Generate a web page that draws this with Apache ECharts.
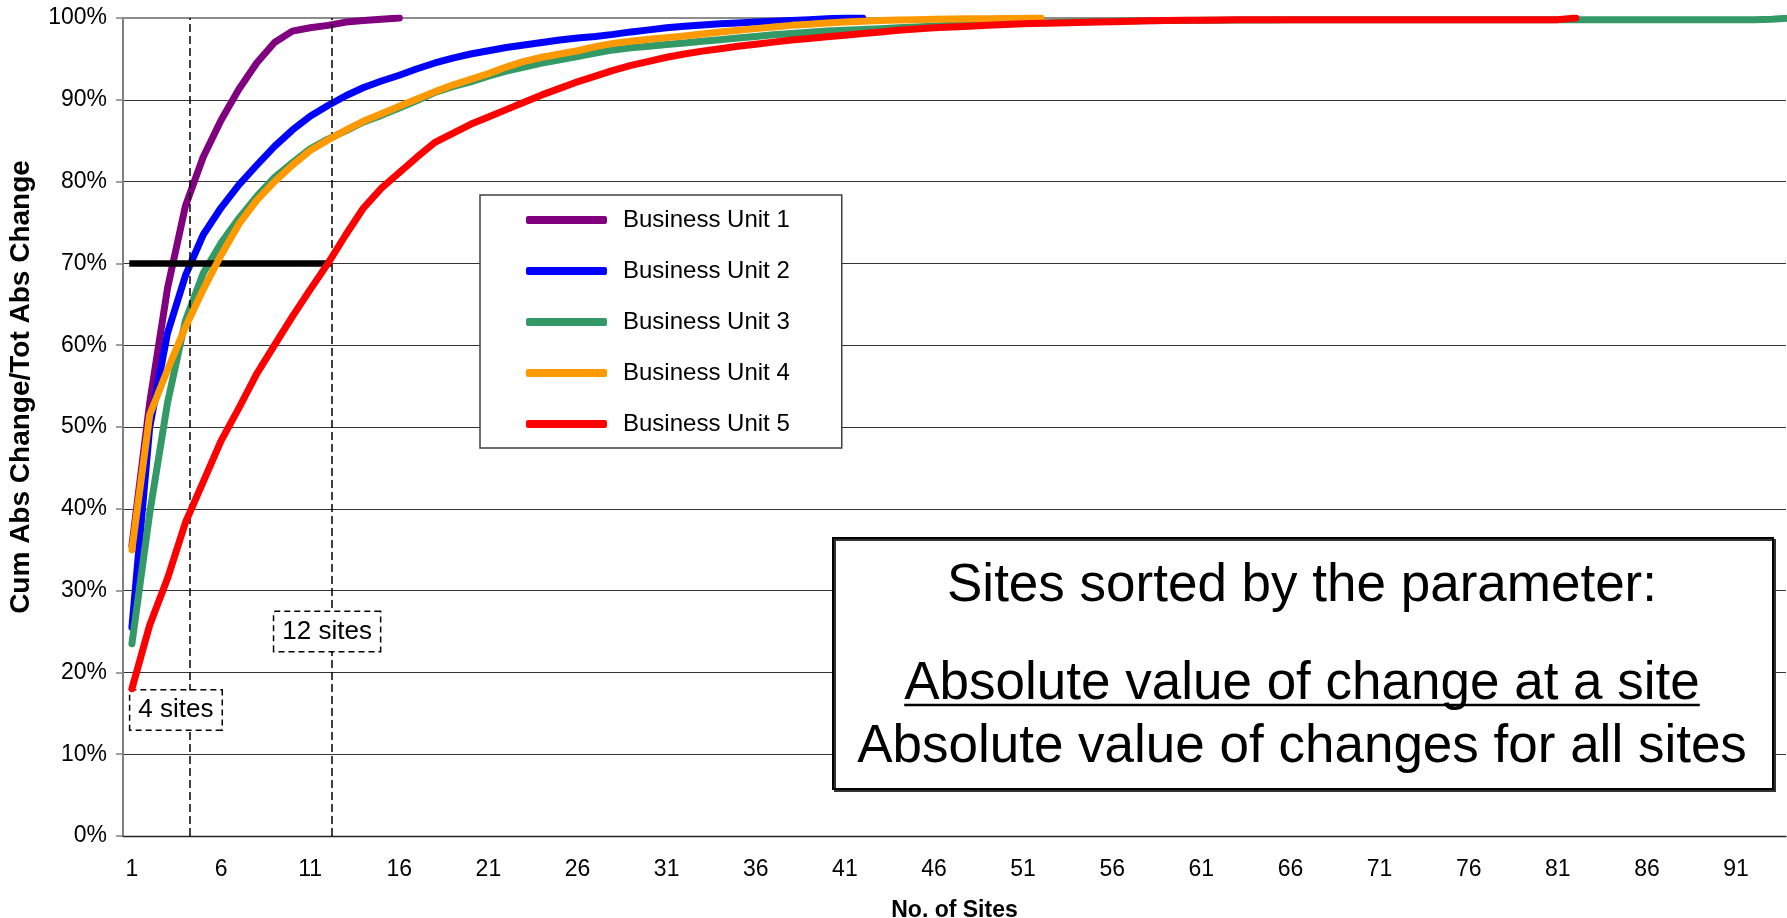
<!DOCTYPE html>
<html><head><meta charset="utf-8">
<script src="https://cdn.jsdelivr.net/npm/echarts@6.0.0/dist/echarts.min.js"></script>
<style>html,body{margin:0;padding:0;background:#fff}#c{width:1787px;height:918px}</style>
</head><body><div id="c"></div>
<script>
// ---------- data ----------
const seriesNames = ['Business Unit 1','Business Unit 2','Business Unit 3','Business Unit 4','Business Unit 5'];
const bu1 = [35.5,53,67,77,83,87.5,91.3,94.5,97.0,98.4,98.8,99.1,99.5,99.7,99.85,100];
const bu2 = [25.5,50,61.5,68.5,73.5,76.8,79.6,82.0,84.3,86.3,88.0,89.3,90.5,91.5,92.3,93.0,93.8,94.5,95.1,95.6,
  96.0,96.4,96.7,97.0,97.3,97.55,97.75,98.0,98.3,98.55,98.8,99.0,99.15,99.3,99.4,99.5,99.6,99.7,99.8,99.9,
  100,100];
const bu3 = [23.5,39.5,53,63,68.8,72.5,75.5,78.2,80.5,82.3,
  84.0,85.2,86.2,87.3,88.1,89.0,89.9,90.9,91.6,92.2,
  92.9,93.5,94.0,94.5,94.9,95.3,95.7,96.1,96.35,96.55,
  96.75,96.95,97.15,97.35,97.55,97.75,97.95,98.1,98.25,98.4,
  98.5,98.6,98.7,98.8,98.9,99.0,99.1,99.2,99.25,99.3,
  99.35,99.4,99.45,99.5,99.55,99.6,99.62,99.65,99.68,99.7,
  99.72,99.74,99.75,99.76,99.77,99.78,99.78,99.79,99.79,99.8,
  99.8,99.8,99.8,99.8,99.8,99.8,99.8,99.8,99.8,99.8,
  99.8,99.8,99.8,99.8,99.8,99.8,99.8,99.8,99.8,99.8,
  99.8,99.8,99.85,100];
const bu4 = [35,51.5,57,62.2,66.8,71,74.8,77.7,80.0,82.0,
  83.8,85.1,86.3,87.4,88.3,89.2,90.1,91.0,91.8,92.5,
  93.2,94.0,94.7,95.2,95.6,96.0,96.5,96.9,97.15,97.4,
  97.6,97.8,98.05,98.3,98.5,98.7,98.9,99.1,99.25,99.4,
  99.5,99.6,99.7,99.75,99.8,99.85,99.88,99.9,99.92,99.95,
  99.97,100];
const bu5 = [18,25.8,31.5,38.3,43.3,48.3,52.3,56.5,60,63.5,
  66.8,70.0,73.5,76.8,79.2,81.1,83.0,84.8,85.9,87.0,
  87.9,88.8,89.7,90.6,91.4,92.2,92.9,93.6,94.2,94.7,
  95.2,95.6,95.95,96.25,96.55,96.8,97.05,97.3,97.5,97.7,
  97.9,98.1,98.3,98.5,98.65,98.8,98.9,99.0,99.1,99.2,
  99.3,99.35,99.4,99.45,99.5,99.55,99.6,99.65,99.7,99.72,
  99.74,99.76,99.78,99.8,99.8,99.8,99.8,99.8,99.8,99.8,
  99.8,99.8,99.8,99.8,99.8,99.8,99.8,99.8,99.8,99.8,
  99.8,100];
const seriesValues = [bu1, bu2, bu3, bu4, bu5];
const seriesColors = ['#800080','#0000FF','#339966','#FF9900','#FF0000'];
const xTickLabels = [1,6,11,16,21,26,31,36,41,46,51,56,61,66,71,76,81,86,91];
const xTitle = 'No. of Sites';
const yTitle = 'Cum Abs Change/Tot Abs Change';
// annotations (site units / percent)
const dashedSites = [4.22, 12.19];
const targetLevel = 70;
const targetFrom = 0.85;
const siteLabels = [{text:'4 sites', site:3.47, pct:15.4},{text:'12 sites', site:11.95, pct:25.0}];
const boxLines = ['Sites sorted by the parameter:', 'Absolute value of change at a site', 'Absolute value of changes for all sites'];

// ---------- chart ----------
const FONT = '"Liberation Sans", Arial, Helvetica, sans-serif';
const X_MIN = 0.5, X_MAX = 93.8;
const chart = echarts.init(document.getElementById('c'), null, {renderer:'canvas'});

const lineSeries = seriesNames.map((n,i)=>({
  name:n, type:'line', data: seriesValues[i].map((v,j)=>[j+1, v]),
  showSymbol:false, symbol:'none', smooth:false, clip:true,
  lineStyle:{color:seriesColors[i], width:7, cap:'round', join:'round'},
  itemStyle:{color:seriesColors[i]},
  emphasis:{disabled:true}, z:2+i
}));

const dashStyle = {type:[8,4], color:'#000', width:1.5};
const annot = {
  type:'line', data:[[dashedSites[0], targetLevel]], showSymbol:false, symbol:'none', silent:true,
  lineStyle:{opacity:0}, z:20,
  markLine:{
    silent:true, symbol:['none','none'], animation:false, label:{show:false},
    data:[
      [{coord:[dashedSites[0],0], lineStyle:dashStyle},{coord:[dashedSites[0],100]}],
      [{coord:[dashedSites[1],0], lineStyle:dashStyle},{coord:[dashedSites[1],100]}],
      [{coord:[targetFrom,targetLevel], lineStyle:{type:'solid', color:'#000', width:6.7, cap:'butt'}},{coord:[dashedSites[1],targetLevel]}]
    ]
  }
};
const labelSeries = {
  type:'line', data:[[siteLabels[0].site, siteLabels[0].pct]], showSymbol:false, symbol:'none', silent:true,
  lineStyle:{opacity:0}, z:30,
  markPoint:{
    silent:true, symbol:'rect', symbolSize:1, itemStyle:{color:'rgba(0,0,0,0)'}, animation:false,
    label:{show:true, position:'inside', formatter:'{b}', color:'#000', fontSize:26, fontFamily:FONT,
      backgroundColor:'#fff', borderColor:'#000', borderWidth:1.5, borderType:[6,4], padding:[5,8,4,8], lineHeight:30},
    data: siteLabels.map(s=>({name:s.text, coord:[s.site, s.pct]}))
  }
};

// underline width
const mc = document.createElement('canvas').getContext('2d');
mc.font = '53px "Liberation Sans", Arial';
const ulW = mc.measureText(boxLines[1]).width;
const boxCx = 1302;

chart.setOption({
  animation:false,
  backgroundColor:'#fff',
  textStyle:{fontFamily:FONT},
  grid:{left:123, right:1, top:18, bottom:82, containLabel:false, outerBoundsMode:'none'},
  xAxis:[{
    type:'value', min:X_MIN, max:X_MAX, position:'bottom',
    name:xTitle, nameLocation:'middle', nameGap:63,
    nameTextStyle:{fontFamily:FONT, fontWeight:'bold', fontSize:23, color:'#000'},
    axisLine:{show:true, onZero:false, lineStyle:{color:'#222', width:1.3}},
    axisTick:{show:false},
    axisLabel:{customValues:xTickLabels, fontSize:23, color:'#000', margin:22, fontFamily:FONT},
    splitLine:{show:false}
  },{
    type:'value', min:X_MIN, max:X_MAX, position:'top',
    axisLine:{show:true, onZero:false, lineStyle:{color:'#8c8c8c', width:2}},
    axisTick:{show:false}, axisLabel:{show:false}, splitLine:{show:false}
  }],
  yAxis:{
    type:'value', min:0, max:100, interval:10,
    name:yTitle, nameLocation:'middle', nameGap:88, nameRotate:90,
    nameTextStyle:{fontFamily:FONT, fontWeight:'bold', fontSize:28, color:'#000', padding:[0,0,0,80]},
    axisLine:{show:true, lineStyle:{color:'#808080', width:2}},
    axisTick:{show:true, length:7, lineStyle:{color:'#808080', width:1.5}},
    axisLabel:{formatter:'{value}%', fontSize:23, color:'#000', margin:16, fontFamily:FONT},
    splitLine:{show:true, lineStyle:{color:'#333', width:1.2}}
  },
  legend:{
    data:seriesNames, orient:'vertical', left:480, top:195,
    backgroundColor:'#fff', borderColor:'#404040', borderWidth:1.5,
    padding:[12,52,11,46], itemWidth:81, itemHeight:8, itemGap:25, icon:'roundRect',
    textStyle:{fontSize:24, color:'#000', fontFamily:FONT, lineHeight:26, padding:[0,0,0,11]},
    selectedMode:false, z:10
  },
  graphic:[
    {type:'rect', left:832, top:537, z:100, shape:{width:940, height:251},
     style:{fill:'#fff', stroke:'#000', lineWidth:2, shadowColor:'#333', shadowOffsetX:2, shadowOffsetY:2, shadowBlur:0}},
    {type:'text', x:boxCx, y:586, z:101, style:{text:boxLines[0], font:'53px "Liberation Sans", Arial', textAlign:'center', textVerticalAlign:'middle', fill:'#000'}},
    {type:'text', x:boxCx, y:684, z:101, style:{text:boxLines[1], font:'53px "Liberation Sans", Arial', textAlign:'center', textVerticalAlign:'middle', fill:'#000'}},
    {type:'line', z:101, shape:{x1:boxCx-ulW/2, y1:705, x2:boxCx+ulW/2, y2:705}, style:{stroke:'#000', lineWidth:2.5}},
    {type:'text', x:boxCx, y:747, z:101, style:{text:boxLines[2], font:'53px "Liberation Sans", Arial', textAlign:'center', textVerticalAlign:'middle', fill:'#000'}}
  ],
  series:[...lineSeries, annot, labelSeries]
});
</script></body></html>
